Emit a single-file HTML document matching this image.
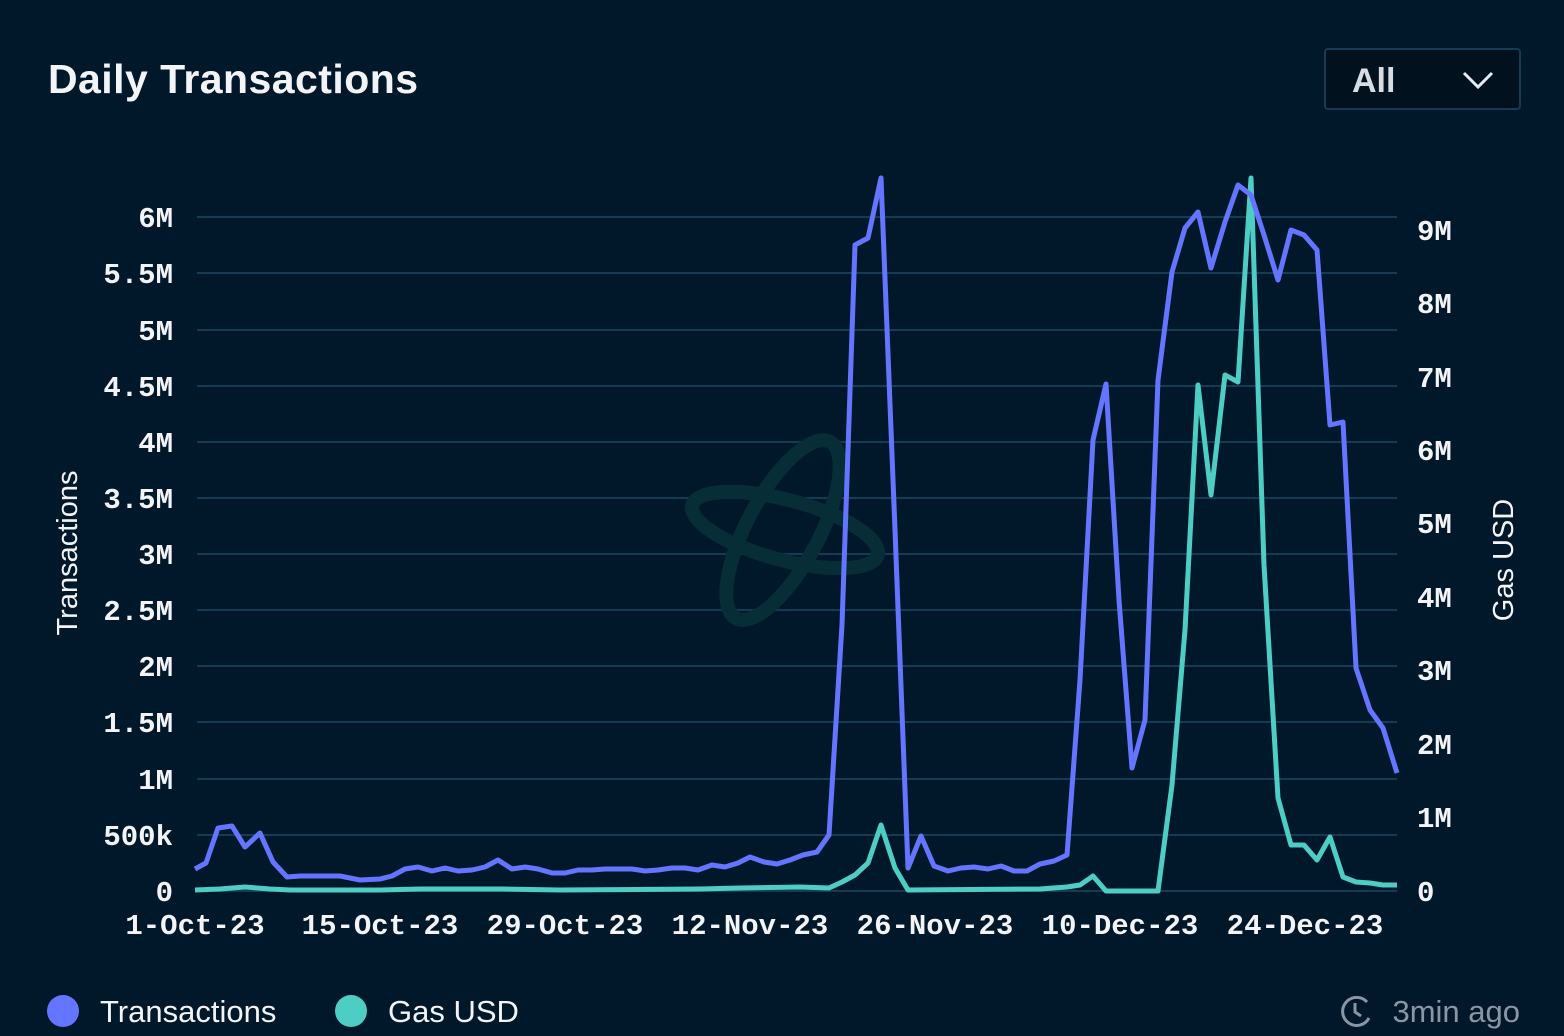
<!DOCTYPE html>
<html><head><meta charset="utf-8"><style>
html,body{margin:0;padding:0;background:#011627;width:1564px;height:1036px;overflow:hidden}
svg{display:block}
</style></head><body>
<svg width="1564" height="1036" viewBox="0 0 1564 1036" xmlns="http://www.w3.org/2000/svg">
<rect width="1564" height="1036" fill="#01182a"/>
<text x="48" y="93" font-family="Liberation Sans, sans-serif" font-size="41" font-weight="bold" fill="#f2f4f7" textLength="370">Daily Transactions</text>
<rect x="1325" y="49" width="195" height="60" rx="3" fill="#01111d" stroke="#173a55" stroke-width="2"/>
<text x="1352" y="92" font-family="Liberation Sans, sans-serif" font-size="34" font-weight="bold" fill="#d8dde3">All</text>
<polyline points="1464,73 1478,87 1492,73" fill="none" stroke="#e8ecf0" stroke-width="3"/>
<g stroke="#173b52" stroke-width="2">
<line x1="197" x2="1397" y1="217" y2="217"/><line x1="197" x2="1397" y1="273" y2="273"/>
<line x1="197" x2="1397" y1="330" y2="330"/><line x1="197" x2="1397" y1="386" y2="386"/>
<line x1="197" x2="1397" y1="442" y2="442"/><line x1="197" x2="1397" y1="498" y2="498"/>
<line x1="197" x2="1397" y1="554" y2="554"/><line x1="197" x2="1397" y1="610" y2="610"/>
<line x1="197" x2="1397" y1="666" y2="666"/><line x1="197" x2="1397" y1="722" y2="722"/>
<line x1="197" x2="1397" y1="779" y2="779"/><line x1="197" x2="1397" y1="835" y2="835"/>
<line x1="197" x2="1397" y1="891" y2="891"/>
</g>
<g fill="none" stroke="#072e37" stroke-width="14">
<ellipse cx="785" cy="530" rx="96" ry="30" transform="rotate(15 785 530)"/>
<ellipse cx="783" cy="530" rx="100" ry="36" transform="rotate(-62 783 530)"/>
</g>
<g font-family="Liberation Mono, monospace" font-size="29" font-weight="bold" fill="#f2f4f7" text-anchor="end">
<text x="173" y="227">6M</text><text x="173" y="283">5.5M</text><text x="173" y="340">5M</text>
<text x="173" y="396">4.5M</text><text x="173" y="452">4M</text><text x="173" y="508">3.5M</text>
<text x="173" y="564">3M</text><text x="173" y="620">2.5M</text><text x="173" y="676">2M</text>
<text x="173" y="732">1.5M</text><text x="173" y="789">1M</text><text x="173" y="845">500k</text>
<text x="173" y="901">0</text>
</g>
<g font-family="Liberation Mono, monospace" font-size="29" font-weight="bold" fill="#f2f4f7" text-anchor="start">
<text x="1417" y="240">9M</text><text x="1417" y="313">8M</text><text x="1417" y="387">7M</text>
<text x="1417" y="460">6M</text><text x="1417" y="533">5M</text><text x="1417" y="607">4M</text>
<text x="1417" y="680">3M</text><text x="1417" y="754">2M</text><text x="1417" y="827">1M</text>
<text x="1417" y="901">0</text>
</g>
<g font-family="Liberation Mono, monospace" font-size="29" font-weight="bold" fill="#f2f4f7" text-anchor="middle">
<text x="195" y="934">1-Oct-23</text><text x="380" y="934">15-Oct-23</text><text x="565" y="934">29-Oct-23</text>
<text x="750" y="934">12-Nov-23</text><text x="935" y="934">26-Nov-23</text><text x="1120" y="934">10-Dec-23</text>
<text x="1305" y="934">24-Dec-23</text>
</g>
<text transform="translate(77 553) rotate(-90)" font-family="Liberation Sans, sans-serif" font-size="29" fill="#f2f4f7" text-anchor="middle">Transactions</text>
<text transform="translate(1513 560) rotate(-90)" font-family="Liberation Sans, sans-serif" font-size="29" fill="#f2f4f7" text-anchor="middle">Gas USD</text>
<polyline fill="none" stroke="#4ecdc4" stroke-width="5" stroke-linejoin="round" points="195,890 220,889 245,887 270,889 290,890 380,890 420,889 500,889 560,890 700,889 740,888 800,887 829,888 842,882 855,875 868,863 881,825 895,868 908,890 1040,889 1067,887 1080,885 1093,876 1106,891 1158,891 1172,785 1185,630 1198,385 1211,495 1225,375 1238,382 1251,178 1264,565 1278,798 1291,845 1304,845 1317,860 1330,837 1343,877 1356,882 1370,883 1383,885 1397,885"/>
<polyline fill="none" stroke="#6476ff" stroke-width="5" stroke-linejoin="round" points="195,869 206,863 218,828 232,826 245,847 260,833 273,862 287,877 300,876 340,876 360,880 380,879 392,876 405,869 418,867 432,871 445,868 458,871 472,870 485,867 498,860 512,869 525,867 538,869 552,873 565,873 578,870 592,870 605,869 618,869 632,869 645,871 658,870 672,868 685,868 698,870 712,865 725,867 738,863 750,857 764,862 777,864 790,860 803,855 817,852 829,835 842,625 855,245 868,238 881,178 895,530 908,868 921,836 934,866 948,871 961,868 974,867 988,869 1001,866 1014,871 1027,871 1040,864 1054,861 1067,855 1080,680 1093,440 1106,384 1119,600 1132,768 1145,720 1158,380 1172,272 1185,228 1198,212 1211,268 1225,222 1238,185 1251,195 1264,235 1278,280 1291,230 1304,235 1317,250 1330,425 1343,422 1356,668 1370,710 1383,728 1397,773"/>
<circle cx="63" cy="1011" r="16" fill="#6476ff"/>
<text x="100" y="1022" font-family="Liberation Sans, sans-serif" font-size="31" fill="#f2f4f7">Transactions</text>
<circle cx="351" cy="1011" r="16" fill="#4ecdc4"/>
<text x="388" y="1022" font-family="Liberation Sans, sans-serif" font-size="31" fill="#f2f4f7">Gas USD</text>
<g fill="none" stroke="#8a96a3" stroke-width="3">
<path d="M1367,1002 A14,14 0 1 0 1369,1018"/>
<polyline points="1355,1003 1355,1012 1361,1016"/>
</g>
<text x="1520" y="1022" font-family="Liberation Sans, sans-serif" font-size="31" fill="#8a96a3" text-anchor="end">3min ago</text>
</svg>
</body></html>
